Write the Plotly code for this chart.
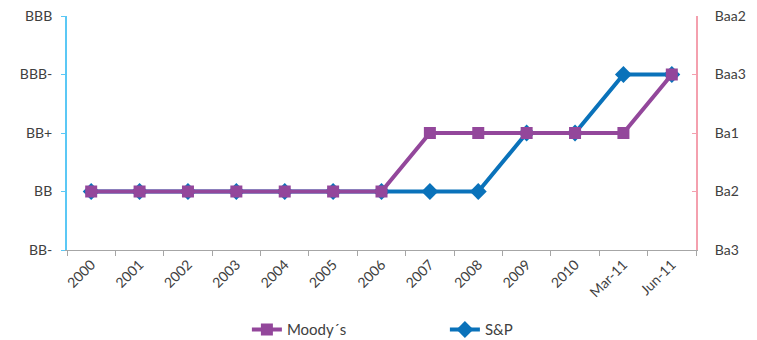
import plotly.graph_objects as go

categories = ["2000", "2001", "2002", "2003", "2004", "2005", "2006", "2007",
              "2008", "2009", "2010", "Mar-11", "Jun-11"]
# rating levels: 0 = BB- / Ba3, 1 = BB / Ba2, 2 = BB+ / Ba1, 3 = BBB- / Baa3, 4 = BBB / Baa2
moodys = [1, 1, 1, 1, 1, 1, 1, 2, 2, 2, 2, 2, 3]
sp = [1, 1, 1, 1, 1, 1, 1, 1, 1, 2, 2, 3, 3]
left_labels = ["BB-", "BB", "BB+", "BBB-", "BBB"]
right_labels = ["Ba3", "Ba2", "Ba1", "Baa3", "Baa2"]
levels = [0, 1, 2, 3, 4]

purple = "#93479B"
blue = "#0A72BA"
font_family = "Lato, 'Open Sans', sans-serif"

fig = go.Figure()
fig.add_trace(go.Scatter(
    x=categories, y=moodys, name="Moody´s", mode="lines+markers",
    line=dict(color=purple, width=4),
    marker=dict(symbol="square", size=12, color=purple),
    yaxis="y2",
))
fig.add_trace(go.Scatter(
    x=categories, y=sp, name="S&P", mode="lines+markers",
    line=dict(color=blue, width=4),
    marker=dict(symbol="diamond", size=13, color=blue),
))

fig.update_layout(
    width=757, height=340,
    margin=dict(l=67, r=61, t=16, b=90),
    paper_bgcolor="white", plot_bgcolor="white",
    font=dict(family=font_family, size=14, color="#404040"),
    showlegend=True,
    legend=dict(orientation="h", x=0.286, xanchor="left",
                yref="container", y=0.03, yanchor="middle",
                font=dict(size=15, color="#404040"),
                tracegroupgap=0, entrywidth=153),
    xaxis=dict(
        type="category", range=[-0.5, 12.5], tickangle=-45,
        showline=True, linecolor="#A6A6A6", linewidth=1,
        ticks="outside", ticklen=5, tickcolor="#A6A6A6", tickson="boundaries",
        showgrid=False, zeroline=False, automargin=False,
        tickfont=dict(size=14, color="#404040"),
    ),
    yaxis=dict(
        range=[0, 4], tickvals=levels, ticktext=left_labels,
        showline=True, linecolor="#5BC8F5", linewidth=2,
        ticks="outside", ticklen=4, tickcolor="#5BC8F5",
        showgrid=False, zeroline=False, ticklabelstandoff=6, automargin=False,
        tickfont=dict(size=14, color="#404040"),
    ),
    yaxis2=dict(
        range=[0, 4], tickvals=levels, ticktext=right_labels,
        overlaying="y", side="right",
        showline=True, linecolor="#F4A0AE", linewidth=2,
        ticks="inside", ticklen=4, tickcolor="#F4A0AE",
        showgrid=False, zeroline=False, ticklabelstandoff=14, automargin=False,
        tickfont=dict(size=14, color="#404040"),
    ),
)

fig.write_html("out.html")
